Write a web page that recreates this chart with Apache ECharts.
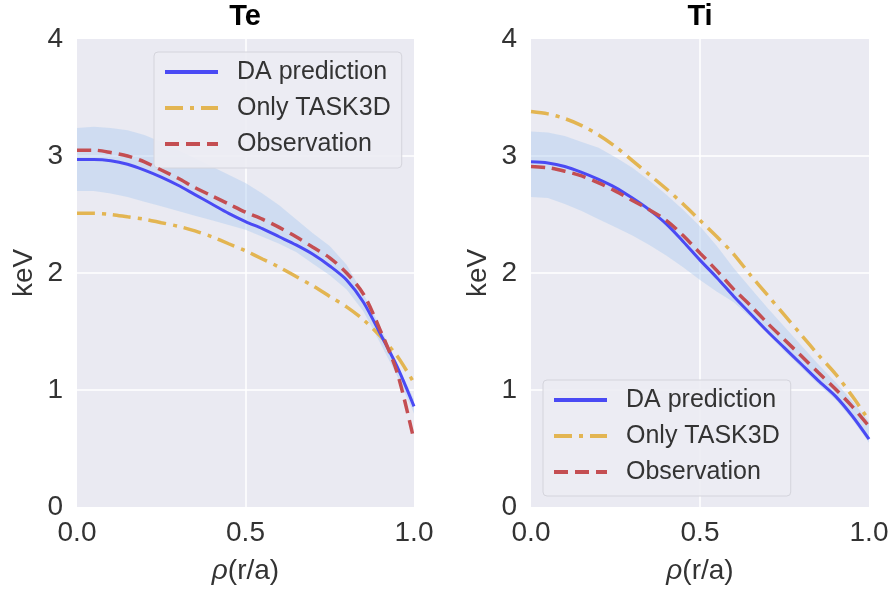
<!DOCTYPE html>
<html>
<head>
<meta charset="utf-8">
<script src="https://cdn.jsdelivr.net/npm/echarts@6/dist/echarts.min.js"></script>
<style>
html,body{margin:0;padding:0;background:#fff;}
#main{width:893px;height:597px;}
</style>
</head>
<body>
<div id="main"></div>
<script>
// rho(r/a) sample points, shared by both panels
var rho = [0, 0.05, 0.1, 0.15, 0.2, 0.25, 0.3, 0.35, 0.4, 0.45, 0.5, 0.55, 0.6, 0.65, 0.7, 0.75, 0.8, 0.85, 0.9, 0.95, 1.0];

// Te (keV)
var teDA    = [2.97, 2.97, 2.96, 2.93, 2.88, 2.82, 2.75, 2.67, 2.59, 2.51, 2.44, 2.38, 2.31, 2.24, 2.16, 2.06, 1.94, 1.75, 1.48, 1.20, 0.86];
var teTask  = [2.51, 2.51, 2.50, 2.48, 2.46, 2.43, 2.40, 2.36, 2.31, 2.25, 2.19, 2.12, 2.05, 1.97, 1.89, 1.80, 1.71, 1.60, 1.46, 1.29, 1.06];
var teObs   = [3.05, 3.05, 3.03, 3.00, 2.95, 2.88, 2.81, 2.73, 2.66, 2.59, 2.52, 2.46, 2.39, 2.31, 2.22, 2.13, 2.00, 1.82, 1.51, 1.15, 0.57];
var teUpper = [3.24, 3.25, 3.24, 3.22, 3.18, 3.12, 3.05, 2.98, 2.91, 2.84, 2.77, 2.68, 2.58, 2.46, 2.34, 2.23, 2.07, 1.82, 1.54, 1.22, 0.92];
var teLower = [2.70, 2.70, 2.68, 2.65, 2.61, 2.57, 2.53, 2.49, 2.45, 2.41, 2.37, 2.31, 2.25, 2.18, 2.08, 1.98, 1.86, 1.67, 1.40, 1.12, 0.80];

// Ti (keV)
var tiDA    = [2.95, 2.94, 2.91, 2.86, 2.80, 2.73, 2.64, 2.54, 2.42, 2.27, 2.11, 1.96, 1.80, 1.65, 1.50, 1.36, 1.22, 1.08, 0.95, 0.78, 0.58];
var tiTask  = [3.38, 3.36, 3.32, 3.26, 3.18, 3.08, 2.96, 2.84, 2.72, 2.59, 2.45, 2.31, 2.16, 1.98, 1.81, 1.64, 1.47, 1.30, 1.14, 0.95, 0.74];
var tiObs   = [2.91, 2.90, 2.87, 2.83, 2.77, 2.70, 2.62, 2.54, 2.45, 2.32, 2.17, 2.02, 1.86, 1.72, 1.57, 1.43, 1.29, 1.15, 1.01, 0.86, 0.69];
var tiUpper = [3.21, 3.20, 3.17, 3.12, 3.07, 2.99, 2.90, 2.79, 2.67, 2.54, 2.40, 2.23, 2.04, 1.87, 1.70, 1.54, 1.38, 1.22, 1.07, 0.91, 0.73];
var tiLower = [2.65, 2.64, 2.59, 2.53, 2.46, 2.39, 2.32, 2.24, 2.15, 2.05, 1.94, 1.84, 1.75, 1.62, 1.48, 1.33, 1.19, 1.05, 0.92, 0.75, 0.55];

var yTicks = [0, 1, 2, 3, 4];
var names = ['DA prediction', 'Only TASK3D', 'Observation'];

var FONT = '"Liberation Sans", Arial, sans-serif';
var cBlue = '#4a4af4', cGold = '#e3b552', cRed = '#c44e52';

function pairs(xs, ys) {
  var out = [];
  for (var i = 0; i < xs.length; i++) out.push([xs[i], ys[i]]);
  return out;
}

function xAxisOf(idx) {
  return {
    type: 'value', gridIndex: idx, min: 0, max: 1, interval: 0.5,
    name: '{i|ρ}(r/a)', nameLocation: 'middle', nameGap: 50,
    nameTextStyle: {fontSize: 28, color: '#333', fontFamily: FONT,
      rich: {i: {fontSize: 28, color: '#333', fontFamily: FONT, fontStyle: 'italic'}}},
    axisLine: {show: false}, axisTick: {show: false},
    axisLabel: {fontSize: 28, color: '#333', fontFamily: FONT, margin: 12,
      formatter: function (v) { return v.toFixed(1); }},
    splitLine: {show: true, showMinLine: false, showMaxLine: false, lineStyle: {color: '#fff', width: 1.5}}
  };
}
function yAxisOf(idx) {
  return {
    type: 'value', gridIndex: idx, min: yTicks[0], max: yTicks[yTicks.length - 1], interval: 1,
    name: 'keV', nameLocation: 'middle', nameGap: 39,
    nameTextStyle: {fontSize: 28, color: '#333', fontFamily: FONT},
    axisLine: {show: false}, axisTick: {show: false},
    axisLabel: {fontSize: 28, color: '#333', fontFamily: FONT, margin: 14},
    splitLine: {show: true, showMinLine: false, showMaxLine: false, lineStyle: {color: '#fff', width: 1.5}}
  };
}

// uncertainty band as one polygon: upper edge forward, lower edge back
function bandSeries(idx, upper, lower) {
  var d = [];
  for (var i = 0; i < rho.length; i++) d.push([rho[i], upper[i], lower[i]]);
  return {
    type: 'custom', xAxisIndex: idx, yAxisIndex: idx, silent: true, clip: true, z: 1,
    encode: {x: 0, y: [1, 2]},
    data: d,
    renderItem: function (params, api) {
      if (params.dataIndex !== 0) return;
      var pts = [];
      for (var i = 0; i < d.length; i++) pts.push(api.coord([d[i][0], d[i][1]]));
      for (var j = d.length - 1; j >= 0; j--) pts.push(api.coord([d[j][0], d[j][2]]));
      return {
        type: 'polygon',
        shape: {points: pts},
        style: {fill: 'rgba(176,205,240,0.45)', stroke: null}
      };
    }
  };
}

function panelSeries(idx, da, task, obs, upper, lower) {
  return [
    bandSeries(idx, upper, lower),
    {name: names[1], type: 'line', xAxisIndex: idx, yAxisIndex: idx, symbol: 'none', smooth: 0.3,
     lineStyle: {color: cGold, width: 3.5, type: [18, 7, 4, 7]}, itemStyle: {color: cGold},
     data: pairs(rho, task), z: 3},
    {name: names[2], type: 'line', xAxisIndex: idx, yAxisIndex: idx, symbol: 'none', smooth: 0.3,
     lineStyle: {color: cRed, width: 3.5, type: [14, 7]}, itemStyle: {color: cRed},
     data: pairs(rho, obs), z: 4},
    {name: names[0], type: 'line', xAxisIndex: idx, yAxisIndex: idx, symbol: 'none', smooth: 0.3,
     lineStyle: {color: cBlue, width: 3}, itemStyle: {color: cBlue},
     data: pairs(rho, da), z: 3}
  ];
}

function legendAt(left, top) {
  return {
    data: names, orient: 'vertical', left: left, top: top,
    itemWidth: 53, itemHeight: 14, itemGap: 10,
    padding: [7, 11, 11, 9],
    backgroundColor: 'rgba(236,236,243,0.9)', borderColor: '#d4d4dc', borderWidth: 1, borderRadius: 4,
    itemStyle: {opacity: 0},
    lineStyle: {width: 4},
    textStyle: {fontSize: 25, color: '#333', fontFamily: FONT, lineHeight: 26, padding: [0, 0, 0, 14]}
  };
}

var option = {
  animation: false,
  backgroundColor: '#fff',
  title: [
    {text: 'Te', left: 245, top: 2, textAlign: 'center', padding: 0,
     textStyle: {fontSize: 29, fontWeight: 'bold', color: '#000', fontFamily: FONT}},
    {text: 'Ti', left: 700, top: 2, textAlign: 'center', padding: 0,
     textStyle: {fontSize: 29, fontWeight: 'bold', color: '#000', fontFamily: FONT}}
  ],
  legend: [legendAt(154, 52), legendAt(543, 380)],
  grid: [
    {left: 77, right: 479, top: 39, bottom: 90, show: true, backgroundColor: '#eaeaf2', borderWidth: 0},
    {left: 531, right: 24, top: 39, bottom: 90, show: true, backgroundColor: '#eaeaf2', borderWidth: 0}
  ],
  xAxis: [xAxisOf(0), xAxisOf(1)],
  yAxis: [yAxisOf(0), yAxisOf(1)],
  series: panelSeries(0, teDA, teTask, teObs, teUpper, teLower)
    .concat(panelSeries(1, tiDA, tiTask, tiObs, tiUpper, tiLower))
};

var mychart = echarts.init(document.getElementById('main'));
mychart.setOption(option);
</script>
</body>
</html>
